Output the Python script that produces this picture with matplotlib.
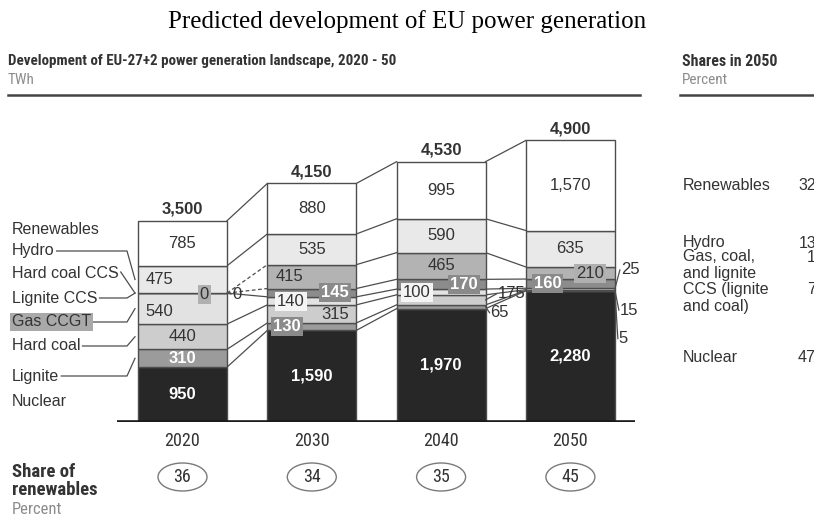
import matplotlib
matplotlib.use('Agg')
import matplotlib.pyplot as plt
from matplotlib import font_manager
from matplotlib.patches import Ellipse

# TWh per year, stacked bottom to top
years = ['2020', '2030', '2040', '2050']
series = ['Nuclear', 'Lignite', 'Hard coal', 'Gas CCGT',
          'Lignite CCS', 'Hard coal CCS', 'Hydro', 'Renewables']
nuclear = [950, 1590, 1970, 2280]
lignite = [310, 130, 65, 5]
hard_coal = [440, 315, 175, 15]
gas_ccgt = [540, 140, 100, 25]
lignite_ccs = [0, 145, 170, 160]
hard_coal_ccs = [0, 415, 465, 210]
hydro = [475, 535, 590, 635]
renewables = [785, 880, 995, 1570]

share_renewables = [36, 34, 35, 45]

share_2050_labels = ['Renewables', 'Hydro', 'Gas, coal,\nand lignite',
                     'CCS (lignite\nand coal)', 'Nuclear']
share_2050 = [32, 13, 1, 7, 47]

stack = [nuclear, lignite, hard_coal, gas_ccgt,
         lignite_ccs, hard_coal_ccs, hydro, renewables]
colors = ['#272727', '#9b9b9b', '#cdcdcd', '#e2e2e2',
          '#8c8c8c', '#b3b3b3', '#e9e9e9', '#ffffff']

installed = {f.name for f in font_manager.fontManager.ttflist}
SANS = 'Liberation Sans'
NARROW = SANS
for cand in ['Liberation Sans Narrow', 'Roboto Condensed', 'Open Sans Condensed']:
    if cand in installed:
        NARROW = cand
        break
TXT = '#333333'
EDGE = '#4d4d4d'

fig = plt.figure(figsize=(8.14, 5.19), dpi=100)
ax = fig.add_axes([0, 0.1875, 1, 0.6636])
ax.set_xlim(-1.4114, 4.884)
ax.set_ylim(0, 6000)
ax.axis('off')

# pixel-space overlay for labels and leaders
ov = fig.add_axes([0, 0, 1, 1])
ov.set_xlim(0, 814)
ov.set_ylim(519, 0)
ov.axis('off')
ov.set_zorder(5)

W = 0.688
xs = range(len(years))
renderer = fig.canvas.get_renderer()


def to_px(x, y):
    return ov.transData.inverted().transform(ax.transData.transform((x, y)))


def fit_width(t, width):
    bb = t.get_window_extent(renderer)
    t.set_fontsize(t.get_fontsize() * width / bb.width)


# stacked bars
bottoms = [0] * len(years)
tops = []
for vals, c in zip(stack, colors):
    ax.bar(xs, vals, bottom=bottoms, width=W, color=c, edgecolor=EDGE,
           linewidth=1, zorder=2)
    bottoms = [b + v for b, v in zip(bottoms, vals)]
    tops.append(list(bottoms))

# connectors between neighbouring bars
for k, top in enumerate(tops):
    for i in range(len(years) - 1):
        ls = (0, (3, 2)) if stack[k][i] == 0 else '-'
        ax.plot([i + W / 2, i + 1 - W / 2], [top[i], top[i + 1]],
                color=EDGE, lw=0.9, ls=ls, zorder=1)

ax.plot([-0.507, 3.5], [0, 0], color='#1a1a1a', lw=2.6, zorder=3,
        solid_capstyle='butt')

# totals above bars
for i in xs:
    ax.text(i, tops[-1][i] + 70, f'{tops[-1][i]:,}', ha='center', va='bottom',
            fontsize=12, fontweight='bold', color=TXT, family=SANS)

# segment labels: (mode, dx px, dy px)
spots = {
    (0, 3): ('plain', -23, 3), (0, 4): ('mid', 22, 1), (0, 5): ('out', 5, 1),
    (0, 6): ('plain', -23, 0),
    (1, 1): ('dark', -25, 0), (1, 2): ('plain', 23, 1), (1, 3): ('light', -21, 1),
    (1, 4): ('dark', 23, 0), (1, 5): ('plain', -22, 0),
    (2, 1): ('out', 5, 6), (2, 2): ('out', 12, -6), (2, 3): ('light', -24, 1),
    (2, 4): ('dark', 23, 0),
    (3, 1): ('out', 4, 48), (3, 2): ('out', 5, 20), (3, 3): ('out', 6, -19),
    (3, 4): ('dark', -23, 0), (3, 5): ('mid', 20, 0),
}
boxes = {'dark': ('#8a8a8a', 'white', 'bold'),
         'mid': ('#b0b0b0', TXT, 'normal'),
         'light': ('#f4f4f4', TXT, 'normal')}

for k, vals in enumerate(stack):
    for i in xs:
        v = vals[i]
        cx, cy = to_px(i, tops[k][i] - v / 2)
        rx, _ = to_px(i + W / 2, 0)
        mode, dx, dy = spots.get((i, k), ('plain', 0, 0))
        if mode == 'plain':
            white = k == 0 or (k == 1 and i == 0)
            ov.text(cx + dx, cy + dy, f'{v:,}', ha='center', va='center',
                    fontsize=12, family=SANS,
                    color='white' if white else TXT,
                    fontweight='bold' if white else 'normal')
        elif mode == 'out':
            tx, ty = rx + dx, cy + dy
            ov.plot([rx, tx - 1], [cy, ty], color=EDGE, lw=0.9)
            ov.text(tx, ty, f'{v:,}', ha='left', va='center', fontsize=12,
                    family=SANS, color=TXT)
        else:
            fc, tc, fw = boxes[mode]
            ov.text(cx + dx, cy + dy, f'{v:,}', ha='center', va='center',
                    fontsize=12, family=SANS, color=tc, fontweight=fw,
                    bbox=dict(boxstyle='square,pad=0.12', fc=fc, ec='none'))

# series names on the left with leader lines into the 2020 bar
name_y = [401, 376, 346, 322, 298, 274, 251, 229]
lx, _ = to_px(-W / 2, 0)
for k, (name, y) in enumerate(zip(series, name_y)):
    kw = dict(ha='left', va='center', fontsize=11.5, family=SANS, color=TXT)
    if name == 'Gas CCGT':
        kw['bbox'] = dict(boxstyle='square,pad=0.1', fc='#a9a9a9', ec='none')
    t = ov.text(12, y, name, **kw)
    if k in (0, 7):
        continue
    v = stack[k][0]
    _, sy = to_px(0, tops[k][0] - v / 2)
    bb = t.get_window_extent(renderer).transformed(ov.transData.inverted())
    x0 = bb.x1 + 2
    if name == 'Hard coal CCS':
        ov.plot([x0, lx - 3], [y - 2, sy], color=EDGE, lw=0.9)
    else:
        ov.plot([x0, lx - 11, lx - 3], [y, y, sy], color=EDGE, lw=0.9)

# headers
ov.text(407, 22, 'Predicted development of EU power generation', ha='center',
        va='center', fontsize=18, family='Liberation Serif', color='black')
sub = ov.text(8, 61, 'Development of EU-27+2 power generation landscape, 2020 - 50',
              ha='left', va='center', fontsize=11, family=NARROW,
              fontweight='bold', color=TXT)
fit_width(sub, 385)
ov.text(8, 80, 'TWh', ha='left', va='center', fontsize=11, family=NARROW,
        color='#8c8c8c')
ov.plot([8, 640], [95, 95], color='#444444', lw=1.8)
sh = ov.text(682, 61, 'Shares in 2050', ha='left', va='center', fontsize=11,
             family=NARROW, fontweight='bold', color=TXT)
fit_width(sh, 95)
ov.text(682, 80, 'Percent', ha='left', va='center', fontsize=11,
        family=NARROW, color='#8c8c8c')
ov.plot([680, 814], [95, 95], color='#444444', lw=1.8)

# 2050 shares panel
share_y = [185, 243, 265, 298, 357]
for lab, val, y in zip(share_2050_labels, share_2050, share_y):
    ov.text(683, y, lab, ha='left', va='center', fontsize=11.5, family=SANS,
            color=TXT, linespacing=1.15)
    ov.text(816, y if '\n' not in lab else y - 8, str(val), ha='right',
            va='center', fontsize=11.5, family=SANS, color=TXT)

# years and share of renewables
for i in xs:
    cx, _ = to_px(i, 0)
    ov.text(cx, 441, years[i], ha='center', va='center', fontsize=13,
            family=NARROW, color=TXT)
    ov.add_patch(Ellipse((cx, 477), 49, 28, fc='white', ec='#7a7a7a', lw=1))
    ov.text(cx, 477, str(share_renewables[i]), ha='center', va='center',
            fontsize=13, family=NARROW, color=TXT)

ov.text(12, 481, 'Share of\nrenewables', ha='left', va='center', fontsize=13.5,
        family=NARROW, fontweight='bold', color=TXT, linespacing=1.0)
ov.text(12, 509, 'Percent', ha='left', va='center', fontsize=12,
        family=NARROW, color='#8c8c8c')

fig.savefig('out.png', dpi=100)
